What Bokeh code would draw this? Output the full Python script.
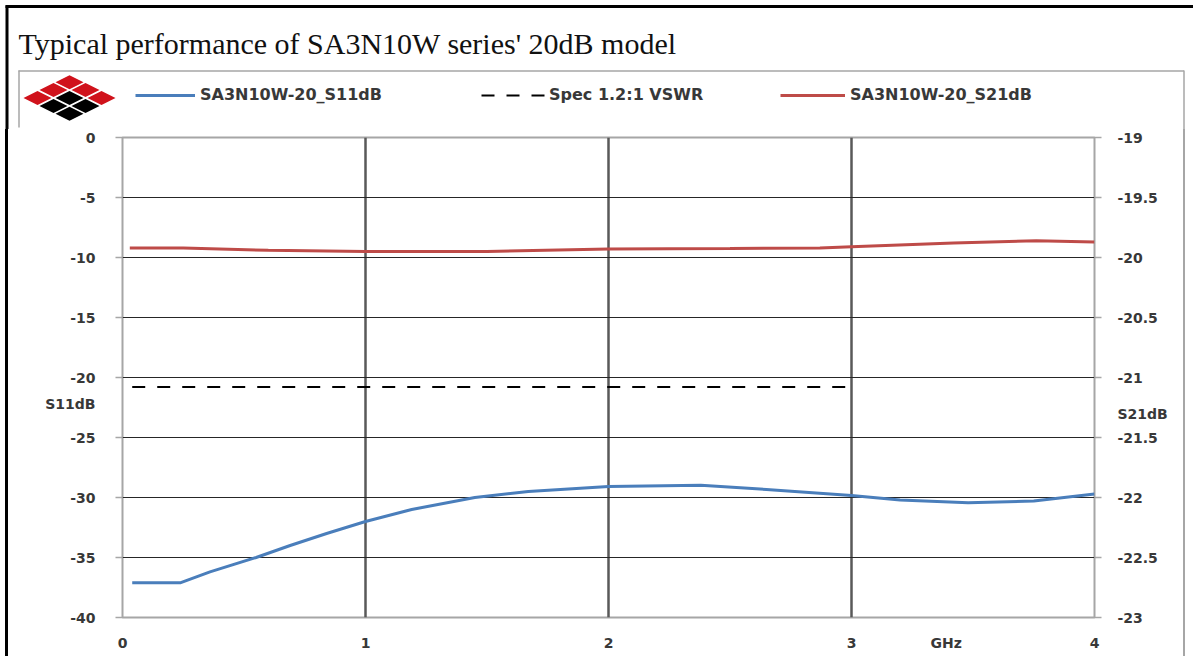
from bokeh.plotting import figure
from bokeh.layouts import column, row
from bokeh.models import (Range1d, LinearAxis, Legend, LegendItem, FixedTicker,
                          Div, Spacer)
from bokeh.embed import file_html
from bokeh.resources import INLINE

# ---------------- data ----------------
title_text = "Typical performance of SA3N10W series' 20dB model"

freq_s11 = [0.04, 0.24, 0.36, 0.55, 0.69, 0.84, 1.0, 1.19, 1.45, 1.67, 2.0,
            2.38, 2.65, 3.0, 3.2, 3.48, 3.75, 4.0]
s11_db = [-37.1, -37.1, -36.2, -35.0, -34.0, -33.0, -32.0, -31.0, -30.0, -29.5,
          -29.08, -28.97, -29.33, -29.83, -30.2, -30.44, -30.3, -29.7]

freq_s21 = [0.03, 0.25, 0.6, 1.0, 1.5, 2.0, 2.5, 2.87, 3.0, 3.42, 3.76, 4.0]
s21_db = [-19.92, -19.92, -19.94, -19.95, -19.95, -19.93, -19.925, -19.92,
          -19.91, -19.88, -19.86, -19.87]

spec_freq = [0.04, 3.0]
spec_db = [-20.8, -20.8]

x_ticks = [0, 1, 2, 3, 4]
x_labels = ["0", "1", "2", "3", "4"]
s11_ticks = [-40, -35, -30, -25, -20, -15, -10, -5, 0]
s11_labels = ["-40", "-35", "-30", "-25", "-20", "-15", "-10", "-5", "0"]
s21_ticks = [-23, -22.5, -22, -21.5, -21, -20.5, -20, -19.5, -19]
s21_labels = ["-23", "-22.5", "-22", "-21.5", "-21", "-20.5", "-20", "-19.5", "-19"]

# axis unit labels and where they sit along their axes
x_unit, x_unit_at = "GHz", 3.39
s11_unit, s11_unit_at = "S11dB", -22.17
s21_unit, s21_unit_at = "S21dB", -21.3

series_names = ["SA3N10W-20_S11dB", "Spec 1.2:1 VSWR", "SA3N10W-20_S21dB"]

# ---------------- styling ----------------
BLUE = "#4a7ebb"
RED = "#be4b48"
TXT = "#383838"
GRAY = "#a6a6a6"
LOGO_RED = "#d0121b"
FONT = "DejaVu Sans"
NAN = float("nan")

PAGE_W, PAGE_H = 1193, 656
HEAD_H = 129
STRIP_L, STRIP_R = 12, 11
MAIN_W = PAGE_W - STRIP_L - STRIP_R
MAIN_H = PAGE_H - HEAD_H


def deco_figure(w, h):
    f = figure(width=w, height=h, x_range=Range1d(0, w), y_range=Range1d(h, 0),
               x_axis_type=None, y_axis_type=None, output_backend="svg",
               toolbar_location=None, min_border=0)
    f.outline_line_color = None
    f.background_fill_color = "white"
    f.border_fill_color = "white"
    f.grid.visible = False
    return f


# ---------------- header: title, logo, legend ----------------
head = deco_figure(PAGE_W, HEAD_H)
head.line([5, PAGE_W], [6, 6], line_color="black", line_width=3)
head.line([6.5, 6.5], [5, HEAD_H], line_color="black", line_width=3)
head.line([18, 1183.5], [70.5, 70.5], line_color=GRAY, line_width=1.5)
head.line([18.5, 18.5], [70, 127], line_color=GRAY, line_width=1.5)
head.line([1183.5, 1183.5], [70, HEAD_H], line_color=GRAY, line_width=1.5)

head.text(x=[18], y=[43], text=[title_text], text_font="Liberation Serif",
          text_font_size="30px", text_color="#111111",
          text_baseline="alphabetic", text_align="left")

# logo: 3x3 tiles rotated 45 degrees
logo_cx, logo_cy, ldx, ldy = 69, 97.5, 16, 7.9
hw, hh = 14.0, 7.0
lxs, lys, lcols = [], [], []
for i in range(3):
    for j in range(3):
        cx = logo_cx + (i - j) * ldx
        cy = logo_cy + (i + j - 2) * ldy
        red = (i + j < 2) or (i + j == 2 and i != j)
        lxs.append([cx - hw, cx, cx + hw, cx])
        lys.append([cy, cy - hh, cy, cy + hh])
        lcols.append(LOGO_RED if red else "black")
head.patches(lxs, lys, fill_color=lcols, line_color=None)

# legend entries (sample glyphs drawn by the legend itself; renderers hold no visible points)
h_s11 = head.line(x=[NAN, NAN], y=[NAN, NAN], line_color=BLUE, line_width=3)
h_spec = head.line(x=[NAN, NAN], y=[NAN, NAN], line_color="black", line_width=2,
                   line_dash="13 12")
h_s21 = head.line(x=[NAN, NAN], y=[NAN, NAN], line_color=RED, line_width=3)
leg_specs = [
    (series_names[0], h_s11, 135, 60, 5),
    (series_names[1], h_spec, 481, 65, 3),
    (series_names[2], h_s21, 780, 65, 5),
]
for name, rend, vx, gw, so in leg_specs:
    lg = Legend(items=[LegendItem(label=name, renderers=[rend])],
                location=(vx, HEAD_H - 104), orientation="horizontal",
                padding=0, margin=0, border_line_color=None,
                background_fill_alpha=0, glyph_width=gw, glyph_height=16,
                label_height=16, label_standoff=so, label_text_font=FONT,
                label_text_font_style="bold", label_text_font_size="16px",
                label_text_color=TXT)
    head.add_layout(lg)

# ---------------- side frame lines (plain page elements) ----------------
left_side = [Spacer(width=5, height=MAIN_H, margin=0),
             Div(text="", width=3, height=MAIN_H, margin=0,
                 styles={"background-color": "black"}),
             Spacer(width=4, height=MAIN_H, margin=0)]
right_side = [Spacer(width=1, height=MAIN_H, margin=0),
              Div(text="", width=2, height=MAIN_H, margin=0,
                  styles={"background-color": GRAY}),
              Spacer(width=8, height=MAIN_H, margin=0)]

# ---------------- main chart ----------------
p = figure(width=MAIN_W, height=MAIN_H, x_range=Range1d(0, 4),
           y_range=Range1d(-40, 0), output_backend="svg",
           toolbar_location=None,
           min_border_left=122 - STRIP_L, min_border_right=STRIP_L + MAIN_W - 1094,
           min_border_top=137 - HEAD_H, min_border_bottom=PAGE_H - 617)
p.extra_y_ranges = {"s21": Range1d(-23, -19)}
p.background_fill_color = "white"
p.border_fill_color = "white"
p.outline_line_color = GRAY
p.outline_line_width = 2

p.xgrid.ticker = FixedTicker(ticks=x_ticks[1:-1])
p.xgrid.grid_line_color = "#595959"
p.xgrid.grid_line_width = 2.5
p.ygrid.ticker = FixedTicker(ticks=s11_ticks[1:-1])
p.ygrid.grid_line_color = "#262626"
p.ygrid.grid_line_width = 1.2


def style_axis(ax, tick_out, standoff):
    ax.axis_line_color = None
    ax.major_tick_out = tick_out
    ax.major_tick_in = 0
    ax.major_tick_line_color = None
    ax.minor_tick_out = tick_out
    ax.minor_tick_in = 0
    ax.minor_tick_line_color = GRAY if tick_out else None
    ax.minor_tick_line_width = 1.5
    ax.major_label_text_font = FONT
    ax.major_label_text_font_style = "bold"
    ax.major_label_text_font_size = "14px"
    ax.major_label_text_color = TXT
    ax.major_label_standoff = standoff


xax = p.xaxis[0]
xax.ticker = FixedTicker(ticks=x_ticks + [x_unit_at], minor_ticks=[])
xax.major_label_overrides = {**dict(zip(x_ticks, x_labels)), x_unit_at: x_unit}
style_axis(xax, 0, 17)

yax = p.yaxis[0]
yax.ticker = FixedTicker(ticks=s11_ticks + [s11_unit_at], minor_ticks=s11_ticks)
yax.major_label_overrides = {**dict(zip(s11_ticks, s11_labels)), s11_unit_at: s11_unit}
style_axis(yax, 7, 20)

rax = LinearAxis(y_range_name="s21",
                 ticker=FixedTicker(ticks=s21_ticks + [s21_unit_at], minor_ticks=s21_ticks))
rax.major_label_overrides = {**dict(zip(s21_ticks, s21_labels)), s21_unit_at: s21_unit}
style_axis(rax, 7, 16)
p.add_layout(rax, "right")

p.line(spec_freq, spec_db, line_color="black", line_width=2, line_dash="13 12")
p.line(freq_s21, s21_db, line_color=RED, line_width=3, y_range_name="s21")
p.line(freq_s11, s11_db, line_color=BLUE, line_width=3)

layout = column(head, row(*left_side, p, *right_side))
open("out.html", "w").write(file_html(layout, INLINE))
